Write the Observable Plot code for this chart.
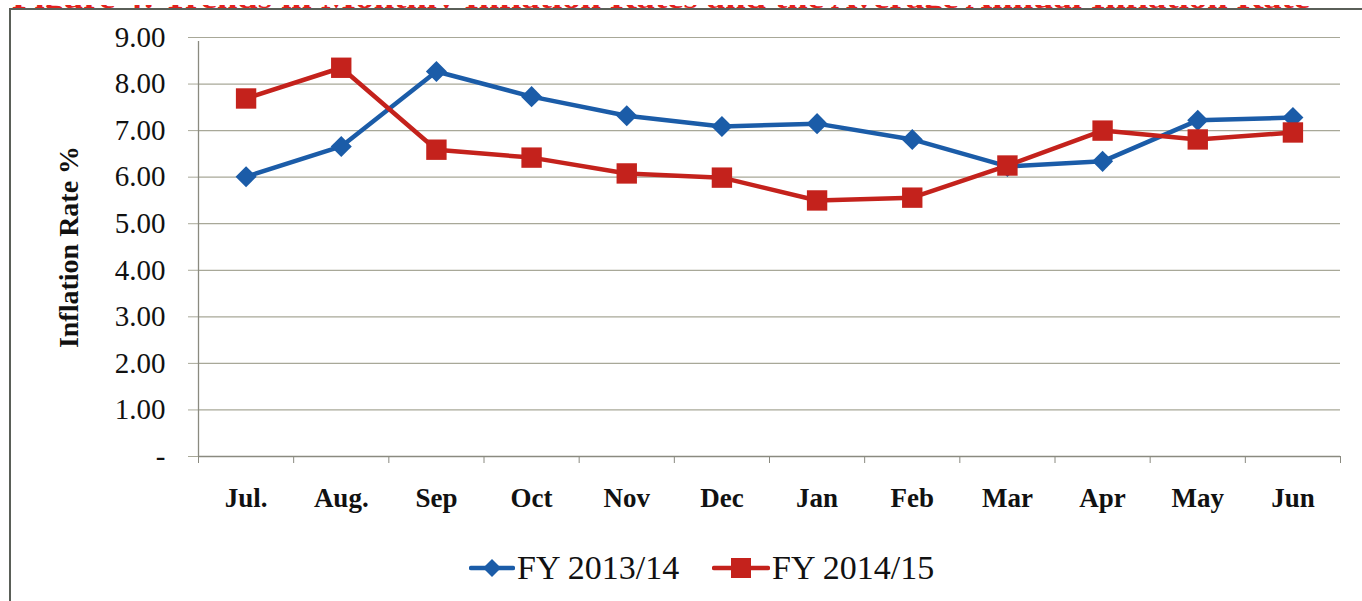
<!DOCTYPE html>
<html>
<head>
<meta charset="utf-8">
<script src="https://cdn.jsdelivr.net/npm/d3@7"></script>
<script src="https://cdn.jsdelivr.net/npm/@observablehq/plot@0.6"></script>
<style>
  html, body { margin: 0; padding: 0; background: #fff; width: 1362px; height: 601px; overflow: hidden; }
  #page { position: relative; width: 1362px; height: 601px; }
  #title { position: absolute; left: 0; top: 0; width: 1362px; height: 9px; overflow: hidden; }
  #frame { position: absolute; left: 9px; top: 8px; width: 1360px; height: 600px;
           border-top: 2px solid #5a5f58; border-left: 2px solid #5a5f58; box-sizing: border-box; }
  #chart { position: absolute; left: 0; top: 0; }
  #legend { position: absolute; top: 548px; left: 0; width: 1362px; height: 40px;
            font-family: "Liberation Serif", "Times New Roman", serif; font-size: 34px; color: #111; }
  .item { position: absolute; top: 0; display: flex; align-items: center; height: 40px; }
  .item svg { margin-right: 2px; }
</style>
</head>
<body>
<div id="page">
  <div id="title"></div>
  <div id="frame"></div>
  <div id="chart"></div>
  <div id="legend"></div>
</div>
<script>
const months = ["Jul.", "Aug.", "Sep", "Oct", "Nov", "Dec", "Jan", "Feb", "Mar", "Apr", "May", "Jun"];
const fy1314 = [6.01, 6.66, 8.27, 7.73, 7.32, 7.09, 7.15, 6.81, 6.23, 6.34, 7.22, 7.28];
const fy1415 = [7.69, 8.35, 6.59, 6.42, 6.08, 5.99, 5.50, 5.56, 6.25, 7.00, 6.81, 6.96];
const seriesNames = ["FY 2013/14", "FY 2014/15"];
const yTicks = [0, 1, 2, 3, 4, 5, 6, 7, 8, 9];
const titleText = "Figure 4: Trends in Monthly Inflation Rates and the Average Annual Inflation Rate";

const blue = "#1b5ca8";
const red = "#c4221c";
const gridColor = "#a8a898";

const idx = months.map((m, i) => i);
const bounds = months.map((m, i) => i - 0.5).concat([months.length - 0.5]);
const rows1 = months.map((m, i) => ({i, month: m, value: fy1314[i]}));
const rows2 = months.map((m, i) => ({i, month: m, value: fy1415[i]}));

const serif = "'Liberation Serif', 'Times New Roman', serif";

const chart = Plot.plot({
  width: 1362,
  height: 520,
  marginLeft: 198,
  marginRight: 22,
  marginTop: 37,
  marginBottom: 64,
  style: {fontFamily: serif, background: "transparent", overflow: "visible"},
  x: {type: "linear", domain: [-0.5, months.length - 0.5]},
  y: {domain: [0, 9]},
  marks: [
    Plot.gridY(yTicks, {stroke: gridColor, strokeOpacity: 1, strokeWidth: 1.2}),
    Plot.axisY({
      ticks: yTicks,
      tickFormat: d => d === 0 ? "-" : d.toFixed(2),
      tickSize: 10,
      tickPadding: 23,
      stroke: gridColor,
      fontSize: 29,
      fill: "#111",
      label: null
    }),
    Plot.axisY({
      ticks: [],
      label: "Inflation Rate %",
      labelAnchor: "center",
      labelArrow: "none",
      labelOffset: 140,
      fontSize: 28,
      fontWeight: "bold",
      fill: "#111"
    }),
    Plot.axisX({
      ticks: bounds,
      tickFormat: () => "",
      tickSize: 7,
      stroke: "#8a8a80",
      label: null
    }),
    Plot.axisX({
      ticks: idx,
      tickFormat: i => months[i],
      tickSize: 0,
      tickPadding: 31,
      fontSize: 27,
      fontWeight: "bold",
      fill: "#111",
      label: null
    }),
    Plot.ruleY([0], {stroke: "#8a8a80", strokeWidth: 1.3}),
    Plot.ruleX([-0.5], {y1: 0, y2: 9, stroke: "#8a8a80", strokeWidth: 1.3, insetBottom: -4}),
    Plot.line(rows1, {x: "i", y: "value", stroke: blue, strokeWidth: 4.5}),
    Plot.line(rows2, {x: "i", y: "value", stroke: red, strokeWidth: 4.5}),
    Plot.dot(rows1, {x: "i", y: "value", symbol: "diamond2", r: 9.5, fill: blue, stroke: null}),
    Plot.dot(rows2, {x: "i", y: "value", symbol: "square", r: 11.5, fill: red, stroke: null})
  ]
});
document.getElementById("chart").appendChild(chart);

// Title (cut off at the top edge)
const ts = d3.create("svg").attr("width", 1362).attr("height", 9);
ts.append("text")
  .attr("x", 12).attr("y", 3)
  .attr("textLength", 1298)
  .attr("lengthAdjust", "spacingAndGlyphs")
  .attr("font-family", serif)
  .attr("font-weight", "bold")
  .attr("font-size", 27)
  .attr("fill", "#e3201b")
  .text(titleText);
document.getElementById("title").appendChild(ts.node());

// Legend
const legend = d3.select("#legend");
const items = [
  {name: seriesNames[0], color: blue, sym: "diamond", left: 469, w: 46},
  {name: seriesNames[1], color: red, sym: "square", left: 712, w: 58}
];
items.forEach(it => {
  const div = legend.append("div").attr("class", "item").style("left", it.left + "px");
  const s = div.append("svg").attr("width", it.w).attr("height", 40);
  s.append("line").attr("x1", 2).attr("x2", it.w - 2).attr("y1", 20).attr("y2", 20)
    .attr("stroke", it.color).attr("stroke-width", 4.5).attr("stroke-linecap", "round");
  const c = it.w / 2;
  if (it.sym === "diamond") {
    s.append("path").attr("d", `M${c},11 L${c + 9},20 L${c},29 L${c - 9},20 Z`).attr("fill", it.color);
  } else {
    s.append("rect").attr("x", c - 10).attr("y", 10).attr("width", 20).attr("height", 20).attr("fill", it.color);
  }
  div.append("span").text(it.name);
});
</script>
</body>
</html>
